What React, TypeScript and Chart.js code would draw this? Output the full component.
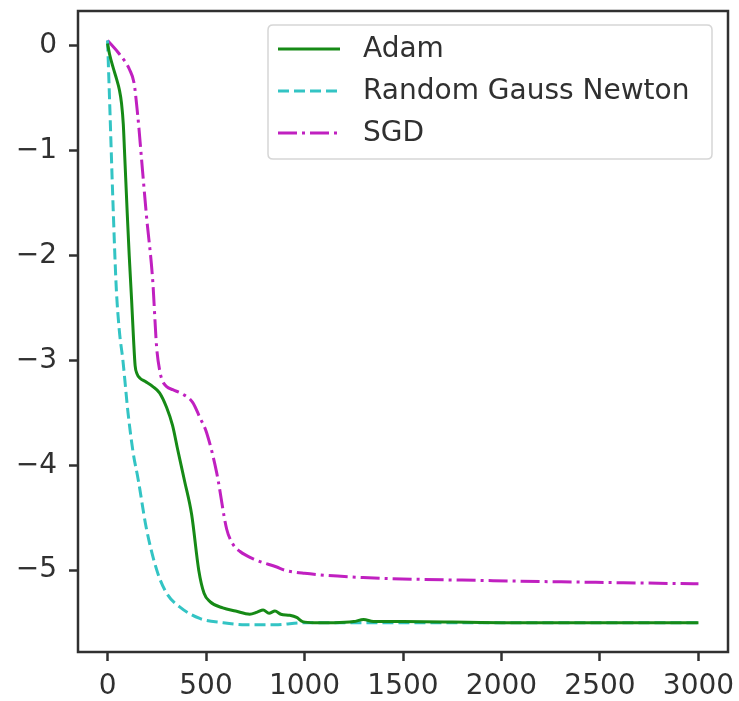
import React, { useEffect, useRef } from "react";
import { Chart, registerables } from "chart.js";

Chart.register(...registerables);

const seriesNames = ["Adam", "Random Gauss Newton", "SGD"];

const adamX = [0, 10, 30, 46, 60, 71, 80, 86, 100, 110, 122, 132, 140, 150, 165, 190, 230, 264, 300, 330, 356, 391, 427, 463, 490, 520, 585, 650, 722, 760, 790, 820, 850, 880, 925, 960, 990, 1050, 1150, 1250, 1300, 1350, 1500, 2000, 2500, 3000];
const adamY = [0.02, -0.08, -0.22, -0.32, -0.42, -0.55, -0.75, -1.0, -1.6, -2.0, -2.42, -2.8, -3.05, -3.13, -3.17, -3.2, -3.25, -3.31, -3.45, -3.62, -3.85, -4.15, -4.47, -5.0, -5.22, -5.3, -5.36, -5.39, -5.42, -5.4, -5.38, -5.41, -5.39, -5.42, -5.43, -5.45, -5.49, -5.5, -5.5, -5.49, -5.47, -5.49, -5.49, -5.5, -5.5, -5.5];

const rgnX = [0, 10, 27, 44, 60, 78, 104, 130, 155, 197, 250, 300, 366, 468, 585, 700, 850, 1000, 3000];
const rgnY = [0.05, -0.5, -1.47, -2.3, -2.72, -3.0, -3.5, -3.88, -4.13, -4.6, -5.0, -5.22, -5.35, -5.46, -5.5, -5.52, -5.52, -5.5, -5.5];

const sgdX = [0, 60, 112, 135, 147, 160, 173, 198, 229, 249, 265, 280, 300, 331, 380, 432, 470, 503, 554, 605, 636, 671, 750, 859, 900, 1000, 1297, 1957, 2619, 3000];
const sgdY = [0.05, -0.08, -0.23, -0.36, -0.55, -0.8, -1.09, -1.63, -2.23, -2.87, -3.1, -3.2, -3.25, -3.28, -3.32, -3.4, -3.55, -3.69, -4.07, -4.61, -4.75, -4.82, -4.9, -4.97, -5.0, -5.03, -5.07, -5.1, -5.12, -5.13];

const xTicks = [0, 500, 1000, 1500, 2000, 2500, 3000];
const yTicks = [-5, -4, -3, -2, -1, 0];

const colors = ["#168a16", "#33c4c4", "#c020c0"];
const dashes: number[][] = [[], [11, 5], [19, 5, 3, 5]];

const FONT = "'DejaVu Sans', sans-serif";
const INK = "#303030";

const toPoints = (xs: number[], ys: number[]) => xs.map((x, i) => ({ x, y: ys[i] }));

const framePlugin = {
  id: "frame",
  afterDatasetsDraw(chart: any) {
    const { ctx, chartArea: a } = chart;
    ctx.save();
    ctx.strokeStyle = INK;
    ctx.lineWidth = 2.5;
    ctx.setLineDash([]);
    ctx.strokeRect(a.left, a.top, a.right - a.left, a.bottom - a.top);
    ctx.restore();
  },
  afterDraw(chart: any) {
    const { ctx } = chart;
    const bx = 268, by = 25, bw = 444, bh = 134, r = 5;
    ctx.save();
    ctx.beginPath();
    ctx.moveTo(bx + r, by);
    ctx.lineTo(bx + bw - r, by);
    ctx.quadraticCurveTo(bx + bw, by, bx + bw, by + r);
    ctx.lineTo(bx + bw, by + bh - r);
    ctx.quadraticCurveTo(bx + bw, by + bh, bx + bw - r, by + bh);
    ctx.lineTo(bx + r, by + bh);
    ctx.quadraticCurveTo(bx, by + bh, bx, by + bh - r);
    ctx.lineTo(bx, by + r);
    ctx.quadraticCurveTo(bx, by, bx + r, by);
    ctx.closePath();
    ctx.fillStyle = "rgba(255,255,255,0.8)";
    ctx.fill();
    ctx.strokeStyle = "#d6d6d6";
    ctx.lineWidth = 1.5;
    ctx.stroke();
    const rows = [49, 91, 133];
    seriesNames.forEach((name, i) => {
      const y = rows[i];
      ctx.beginPath();
      ctx.setLineDash(dashes[i]);
      ctx.strokeStyle = colors[i];
      ctx.lineWidth = 3;
      ctx.moveTo(278, y);
      ctx.lineTo(340, y);
      ctx.stroke();
      ctx.setLineDash([]);
      ctx.fillStyle = INK;
      ctx.font = `28px ${FONT}`;
      ctx.textBaseline = "middle";
      ctx.textAlign = "left";
      ctx.fillText(name, 363, y + 1);
    });
    ctx.restore();
  },
};

const fmt = (v: number) => (v < 0 ? "\u2212" + Math.abs(v) : String(v));

export default function App() {
  const ref = useRef<HTMLCanvasElement | null>(null);
  useEffect(() => {
    if (!ref.current) return;
    const allX = [adamX, rgnX, sgdX];
    const allY = [adamY, rgnY, sgdY];
    const chart = new Chart(ref.current, {
      type: "line",
      data: {
        datasets: seriesNames.map((name, i) => ({
          label: name,
          data: toPoints(allX[i], allY[i]),
          borderColor: colors[i],
          borderWidth: 3,
          borderDash: dashes[i],
          pointRadius: 0,
          cubicInterpolationMode: "monotone",
          fill: false,
        })),
      },
      options: {
        animation: false,
        responsive: false,
        devicePixelRatio: 1,
        layout: { padding: { top: 11, right: 11, left: 0, bottom: 0 } },
        plugins: { legend: { display: false }, tooltip: { enabled: false } },
        scales: {
          x: {
            type: "linear",
            min: -150,
            max: 3150,
            border: { display: false },
            grid: { drawOnChartArea: false, drawTicks: true, tickLength: 9, tickWidth: 2.5, tickColor: INK },
            ticks: { color: INK, font: { family: FONT, size: 28 }, padding: 9, maxRotation: 0, autoSkip: false, callback: (v: any) => fmt(Number(v)) },
            afterBuildTicks: (s: any) => { s.ticks = xTicks.map((value) => ({ value })); },
            afterFit: (s: any) => { s.height = 49; s.paddingLeft = 0; s.paddingRight = 0; },
          },
          y: {
            type: "linear",
            min: -5.78,
            max: 0.33,
            border: { display: false },
            grid: { drawOnChartArea: false, drawTicks: true, tickLength: 9, tickWidth: 2.5, tickColor: INK },
            ticks: { color: INK, font: { family: FONT, size: 28 }, padding: 12, autoSkip: false, callback: (v: any) => fmt(Number(v)) },
            afterBuildTicks: (s: any) => { s.ticks = yTicks.map((value) => ({ value })); },
            afterFit: (s: any) => { s.width = 78; s.paddingTop = 0; s.paddingBottom = 0; },
          },
        },
      },
      plugins: [framePlugin],
    } as any);
    return () => chart.destroy();
  }, []);
  return (
    <div style={{ position: "absolute", left: 0, top: 0, width: 739, height: 701, background: "#fff" }}>
      <canvas ref={ref} width={739} height={701} />
    </div>
  );
}
